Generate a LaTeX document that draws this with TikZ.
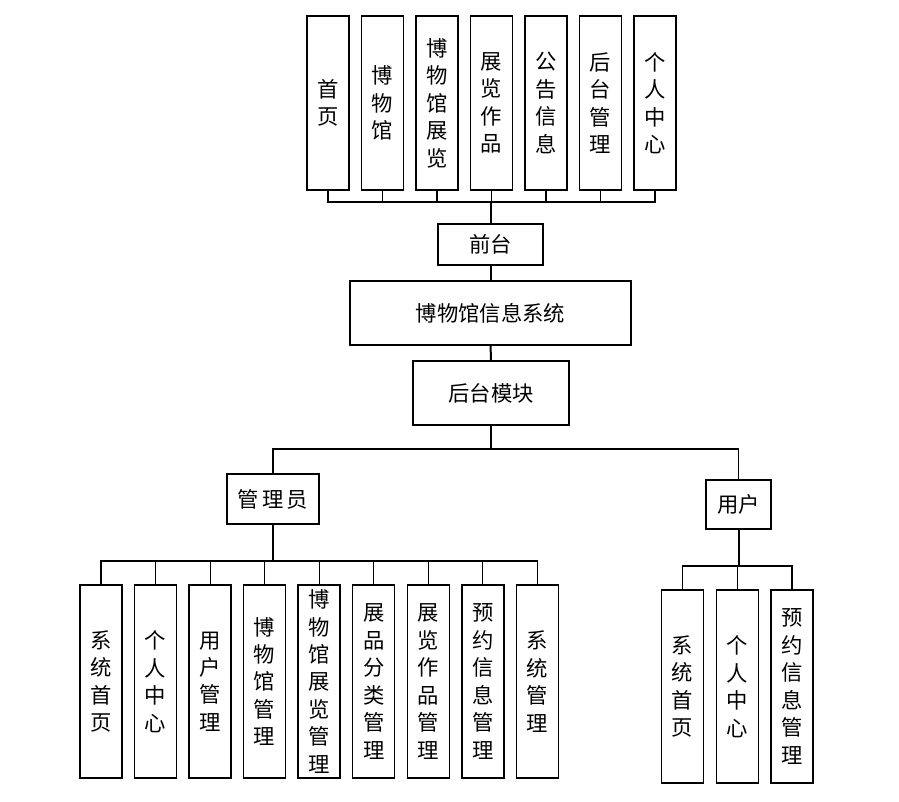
\documentclass[tikz,border=0pt]{standalone}
\usepackage{fontspec}
\newfontfamily\cjk{Noto Sans CJK SC}
\usetikzlibrary{positioning}
\tikzset{
    every picture/.style={line join=miter},
    tallbox/.style={draw=black,fill=white,line width=1.1pt,minimum width=31.5pt,
      inner sep=0pt,align=center,font=\cjk\fontsize{16}{20.6}\selectfont},
    topbox/.style={tallbox,minimum height=130.5pt},
    leafbox/.style={tallbox,minimum height=144.75pt},
    flatbox/.style={draw=black,fill=white,line width=1.1pt,inner sep=0pt,
      font=\cjk\fontsize{16}{19}\selectfont},
    branch/.style={draw=black,line width=0.9pt},
    trunk/.style={draw=black,line width=1.5pt}
}

\begin{document}
\begin{tikzpicture}[x=0.75pt,y=-0.75pt]
  \useasboundingbox (0,0) rectangle (899,801);
  % front end
  \foreach \t [count=\i from 0] in {{首\\页},{博\\物\\馆},{博\\物\\馆\\展\\览},{展\\览\\作\\品},{公\\告\\信\\息},{后\\台\\管\\理},{个\\人\\中\\心}}{\node[topbox] (top\i) at ({328+54.5*\i},103){\t};}
  \node[flatbox,minimum width=78.75pt,minimum height=30.75pt] (front) at (490.5,244.5){前台};
  \node[flatbox,minimum width=210.75pt,minimum height=48pt] (sys) at (490.5,313){博物馆信息系统};
  \node[flatbox,minimum width=117pt,minimum height=48pt] (back) at (491,393){后台模块};
  \coordinate (fbus) at (front.north |- 0,202);
  \foreach \i in {0,...,6}{\draw[branch] (top\i.south) |- (fbus);}
  \draw[trunk] (fbus) -- (front.north);
  \draw[trunk] (front) -- (sys);
  \draw[trunk] (sys) -- (back);
  % back end
  \node[flatbox,minimum width=69pt,minimum height=37.5pt] (admin) at (273,499){管\hspace{2.5pt}理\hspace{2.5pt}员};
  \node[flatbox,minimum width=48.75pt,minimum height=36.75pt] (user) at (738.5,504.5){用户};
  \coordinate (bbus) at (back.south |- 0,449);
  \draw[trunk] (back.south) -- (bbus);
  \draw[branch] (admin.north) |- (bbus) -| (user.north);
  % admin functions
  \foreach \t [count=\i from 0] in {{系\\统\\首\\页},{个\\人\\中\\心},{用\\户\\管\\理},{博\\物\\馆\\管\\理},{博\\物\\馆\\展\\览\\管\\理},{展\\品\\分\\类\\管\\理},{展\\览\\作\\品\\管\\理},{预\\约\\信\\息\\管\\理},{系\\统\\管\\理}}{\node[leafbox] (adm\i) at ({101+54.55*\i},681.5){\t};}
  \coordinate (abus) at (admin.south |- 0,561);
  \draw[trunk] (admin.south) -- (abus);
  \foreach \i in {0,...,8}{\draw[branch] (adm\i.north) |- (abus);}
  % user functions
  \foreach \t [count=\i from 0] in {{系\\统\\首\\页},{个\\人\\中\\心},{预\\约\\信\\息\\管\\理}}{\node[leafbox] (usr\i) at ({682.5+54.75*\i},686.5){\t};}
  \coordinate (ubus) at (user.south |- 0,566);
  \draw[trunk] (user.south) -- (ubus);
  \foreach \i in {0,...,2}{\draw[branch] (usr\i.north) |- (ubus);}
\end{tikzpicture}
\end{document}
